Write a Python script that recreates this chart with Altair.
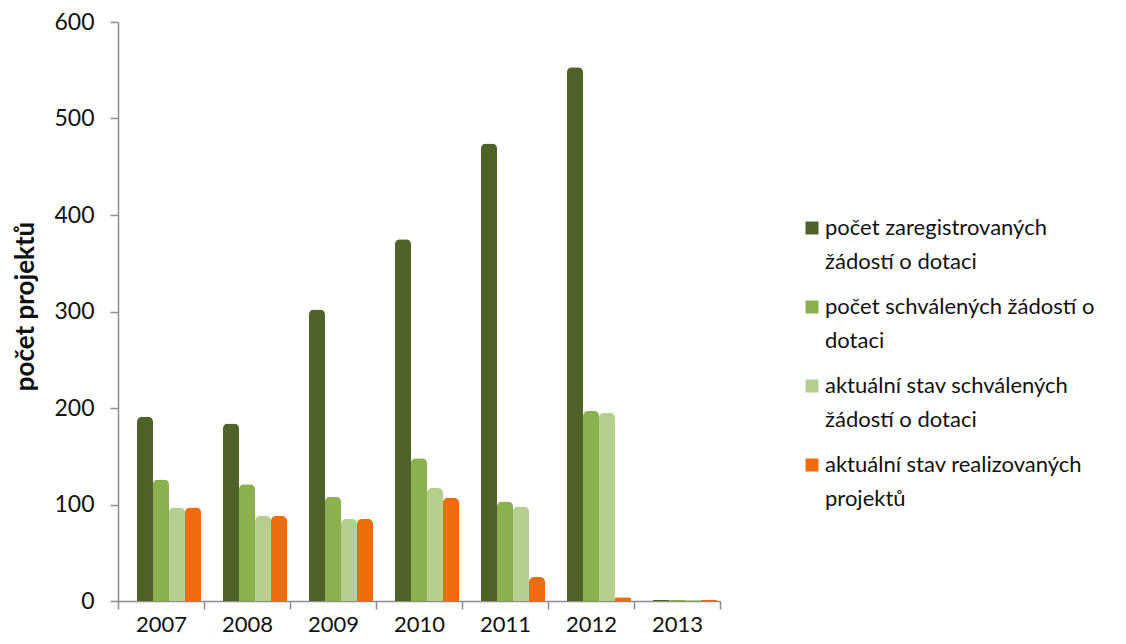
import altair as alt
import pandas as pd

years = ["2007", "2008", "2009", "2010", "2011", "2012", "2013"]
series = [
    "počet zaregistrovaných žádostí o dotaci",
    "počet schválených žádostí o dotaci",
    "aktuální stav schválených žádostí o dotaci",
    "aktuální stav realizovaných projektů",
]
legend_lines = [
    ["počet zaregistrovaných", "žádostí o dotaci"],
    ["počet schválených žádostí o", "dotaci"],
    ["aktuální stav schválených", "žádostí o dotaci"],
    ["aktuální stav realizovaných", "projektů"],
]
registered = [191, 184, 302, 375, 474, 553, 1]
approved = [126, 121, 108, 148, 103, 197, 1]
current_approved = [97, 88, 85, 117, 98, 195, 1]
realized = [97, 88, 85, 107, 25, 4, 1]
colors = ["#4F6228", "#8DB04F", "#B5D08E", "#EE6C0A"]

rows = []
for s, vals in zip(series, [registered, approved, current_approved, realized]):
    for y, v in zip(years, vals):
        rows.append({"rok": y, "řada": s, "hodnota": v})
df = pd.DataFrame(rows)

# multi-line legend labels
label_expr = ""
for s, lines in zip(series, legend_lines):
    arr = "[" + ",".join("'" + l + "'" for l in lines) + "]"
    label_expr += f"datum.label == '{s}' ? {arr} : "
label_expr += "datum.label"

FONT = "Lato"
INK = "#111111"
AXIS_GRAY = "#8c8c8c"

chart = alt.Chart(df).mark_bar(cornerRadiusTopLeft=5, cornerRadiusTopRight=5).encode(
    x=alt.X("rok:N", sort=years, title=None,
            scale=alt.Scale(paddingInner=0, paddingOuter=0),
            axis=alt.Axis(labelAngle=0, tickBand="extent", tickSize=8, labelPadding=5,
                          domainColor=AXIS_GRAY, tickColor=AXIS_GRAY, domainWidth=1.5,
                          tickWidth=1.5, labelFontSize=22, labelColor=INK,
                          labelFont=FONT)),
    xOffset=alt.XOffset("řada:N",
                        scale=alt.Scale(domain=[""] + series, paddingInner=0,
                                        paddingOuter=0.1875)),
    y=alt.Y("hodnota:Q", title="počet projektů",
            scale=alt.Scale(domain=[0, 600], nice=False),
            axis=alt.Axis(values=[0, 100, 200, 300, 400, 500, 600], grid=False,
                          tickSize=8, labelPadding=16, domainColor=AXIS_GRAY,
                          tickColor=AXIS_GRAY, domainWidth=1.5, tickWidth=1.5,
                          labelFontSize=23, labelColor=INK,
                          labelFont=FONT, titleFontSize=26, titleFont=FONT,
                          titleFontWeight="bold", titleColor=INK,
                          titleBaseline="alphabetic", titleX=-85, titleY=284)),
    color=alt.Color("řada:N", sort=series, title=None,
                    scale=alt.Scale(domain=series, range=colors),
                    legend=alt.Legend(orient="none", legendX=683, legendY=195,
                                      padding=0, symbolType="square", symbolSize=169,
                                      symbolStrokeWidth=0, labelFontSize=22,
                                      labelFont=FONT, labelColor=INK,
                                      labelLimit=400, labelExpr=label_expr,
                                      rowPadding=23, labelOffset=2,
                                      symbolOpacity=1)),
).properties(
    width=602, height=579,
    autosize=alt.AutoSizeParams(type="none"),
    padding={"left": 110, "top": 14, "right": 398, "bottom": 35},
).configure(style={"guide-label": {"lineHeight": 34}}).configure_view(stroke=None)

chart.save("out.html", embed_options={"renderer": "svg", "actions": False})
